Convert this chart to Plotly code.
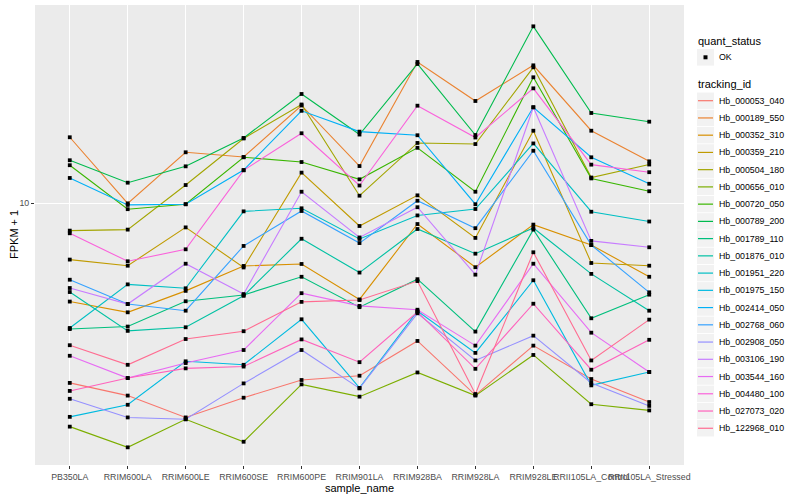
import plotly.graph_objects as go

samples = ["PB350LA", "RRIM600LA", "RRIM600LE", "RRIM600SE", "RRIM600PE", "RRIM901LA",
           "RRIM928BA", "RRIM928LA", "RRIM928LE", "RRII105LA_Control", "RRII105LA_Stressed"]

tracking_ids = ["Hb_000053_040", "Hb_000189_550", "Hb_000352_310", "Hb_000359_210",
                "Hb_000504_180", "Hb_000656_010", "Hb_000720_050", "Hb_000789_200",
                "Hb_001789_110", "Hb_001876_010", "Hb_001951_220", "Hb_001975_150",
                "Hb_002414_050", "Hb_002768_060", "Hb_002908_050", "Hb_003106_190",
                "Hb_003544_160", "Hb_004480_100", "Hb_027073_020", "Hb_122968_010"]

colors = ["#F8766D", "#EA8331", "#D89000", "#C09B00", "#A3A500", "#7CAE00", "#39B600",
          "#00BB4E", "#00BF7D", "#00C1A3", "#00BFC4", "#00BAE0", "#00B0F6", "#35A2FF",
          "#9590FF", "#C77CFF", "#E76BF3", "#FA62DB", "#FF62BC", "#FF6C91"]

# FPKM + 1 per sample (same order as samples)
hb_000053_040 = [3.55, 3.30, 2.91, 3.26, 3.61, 3.70, 4.52, 3.31, 4.40, 3.63, 3.18]
hb_000189_550 = [14.60, 9.98, 13.39, 13.03, 17.53, 12.37, 22.52, 17.99, 22.09, 15.16, 12.71]
hb_000352_310 = [5.67, 5.33, 6.03, 6.96, 7.04, 5.74, 8.86, 6.91, 8.83, 7.85, 6.54]
hb_000359_210 = [7.22, 6.97, 8.69, 6.90, 11.91, 8.76, 10.45, 8.18, 15.16, 7.08, 6.97]
hb_000504_180 = [8.53, 8.58, 11.09, 14.50, 17.63, 10.43, 14.13, 14.04, 21.84, 11.58, 12.48]
hb_000656_010 = [2.76, 2.45, 2.88, 2.53, 3.52, 3.28, 3.77, 3.30, 4.17, 3.14, 3.03]
hb_000720_050 = [12.43, 9.65, 9.93, 13.01, 12.66, 11.46, 13.74, 10.67, 20.62, 11.52, 10.70]
hb_000789_200 = [12.79, 11.24, 12.35, 14.54, 18.73, 14.83, 22.26, 14.79, 27.65, 16.79, 15.97]
hb_001789_110 = [4.84, 4.91, 5.68, 5.89, 6.54, 5.49, 6.45, 4.77, 8.58, 5.15, 5.90]
hb_001876_010 = [5.99, 4.79, 4.89, 5.86, 8.14, 6.70, 8.61, 7.47, 8.66, 6.65, 5.38]
hb_001951_220 = [4.87, 6.26, 6.12, 9.53, 9.70, 8.13, 9.31, 9.66, 14.09, 9.51, 8.99]
hb_001975_150 = [2.92, 3.13, 4.02, 3.94, 5.12, 3.45, 5.37, 4.22, 6.41, 3.50, 3.78]
hb_002414_050 = [11.55, 9.89, 9.93, 12.09, 17.00, 15.08, 14.77, 9.93, 17.35, 13.01, 11.17]
hb_002768_060 = [6.43, 5.59, 5.38, 7.81, 9.55, 7.94, 10.13, 8.65, 13.51, 7.85, 5.98]
hb_002908_050 = [3.24, 2.91, 2.88, 3.54, 4.29, 3.44, 5.30, 4.04, 4.66, 3.55, 3.11]
hb_003106_190 = [6.13, 5.59, 7.05, 5.92, 10.67, 8.20, 9.76, 6.62, 17.35, 8.04, 7.75]
hb_003544_160 = [4.15, 3.65, 3.98, 4.29, 5.95, 5.53, 5.41, 4.40, 7.05, 4.74, 3.78]
hb_004480_100 = [8.40, 7.15, 7.66, 12.07, 14.94, 11.06, 17.51, 14.58, 19.35, 12.47, 11.94]
hb_027073_020 = [3.39, 3.65, 3.86, 3.90, 4.56, 4.00, 5.34, 3.85, 5.60, 3.83, 4.55]
hb_122968_010 = [4.41, 3.94, 4.57, 4.78, 5.66, 5.72, 6.38, 3.33, 7.53, 4.04, 5.11]

series = [hb_000053_040, hb_000189_550, hb_000352_310, hb_000359_210, hb_000504_180,
          hb_000656_010, hb_000720_050, hb_000789_200, hb_001789_110, hb_001876_010,
          hb_001951_220, hb_001975_150, hb_002414_050, hb_002768_060, hb_002908_050,
          hb_003106_190, hb_003544_160, hb_004480_100, hb_027073_020, hb_122968_010]

quant_status = ["OK"]
y_ticks = [10]

FONT = "Liberation Sans"
W, H = 800, 500
PL, PR, PT, PB = 35, 684, 5, 465


def px(x):
    return (x - PL) / (PR - PL)


def py(y):
    return (PB - y) / (PB - PT)


fig = go.Figure()

for name, col, vals in zip(tracking_ids, colors, series):
    fig.add_trace(go.Scatter(x=samples, y=vals, mode="lines", name=name,
                             line=dict(color=col, width=1.1), showlegend=False,
                             hoverinfo="skip"))

all_x = [s for _ in series for s in samples]
all_y = [v for vals in series for v in vals]
fig.add_trace(go.Scatter(x=all_x, y=all_y, mode="markers", name="OK",
                         marker=dict(color="black", size=3.8, symbol="square"),
                         showlegend=False))

shapes = []
annotations = []

# manual ggplot-style legends
annotations.append(dict(x=px(696), y=py(40.5), xref="paper", yref="paper",
                        text="quant_status", showarrow=False, xanchor="left",
                        yanchor="middle", font=dict(family=FONT, size=11, color="black")))
cy = 57.3
shapes.append(dict(type="rect", xref="paper", yref="paper", x0=px(697), x1=px(714),
                   y0=py(cy - 8.3), y1=py(cy + 8.3), fillcolor="#F2F2F2",
                   line=dict(width=0), layer="above"))
shapes.append(dict(type="rect", xref="paper", yref="paper", x0=px(703.5), x1=px(707.5),
                   y0=py(cy - 2), y1=py(cy + 2), fillcolor="black",
                   line=dict(width=0), layer="above"))
annotations.append(dict(x=px(717), y=py(cy), xref="paper", yref="paper",
                        text=quant_status[0], showarrow=False, xanchor="left",
                        yanchor="middle", font=dict(family=FONT, size=8.8, color="black")))

annotations.append(dict(x=px(696), y=py(84), xref="paper", yref="paper",
                        text="tracking_id", showarrow=False, xanchor="left",
                        yanchor="middle", font=dict(family=FONT, size=11, color="black")))
for i, (name, col) in enumerate(zip(tracking_ids, colors)):
    cy = 100.7 + i * 17.24
    shapes.append(dict(type="rect", xref="paper", yref="paper", x0=px(697), x1=px(714),
                       y0=py(cy - 8.2), y1=py(cy + 8.2), fillcolor="#F2F2F2",
                       line=dict(width=0), layer="above"))
    shapes.append(dict(type="line", xref="paper", yref="paper", x0=px(698), x1=px(713),
                       y0=py(cy), y1=py(cy), line=dict(color=col, width=1.2), layer="above"))
    annotations.append(dict(x=px(717), y=py(cy), xref="paper", yref="paper",
                            text=name, showarrow=False, xanchor="left", yanchor="middle",
                            font=dict(family=FONT, size=8.8, color="black")))

# y axis title (rotated), placed like ggplot's
annotations.append(dict(x=px(14), y=0.5, xref="paper", yref="paper", text="FPKM + 1",
                        textangle=-90, showarrow=False, xanchor="center", yanchor="middle",
                        font=dict(family=FONT, size=11, color="black")))

fig.update_layout(
    width=W, height=H, autosize=False,
    margin=dict(l=PL, r=W - PR, t=PT, b=H - PB),
    paper_bgcolor="white", plot_bgcolor="#EBEBEB",
    font=dict(family=FONT, size=11, color="black"),
    showlegend=False,
    shapes=shapes, annotations=annotations,
    xaxis=dict(type="category", categoryorder="array", categoryarray=samples,
               range=[-0.6, len(samples) - 0.4], showgrid=True, gridcolor="white",
               gridwidth=1.1, zeroline=False, showline=False, ticks="outside",
               ticklen=3, tickcolor="#333333", tickwidth=1, tickangle=0,
               tickfont=dict(family=FONT, size=8.8, color="#4D4D4D"),
               title=dict(text="sample_name", font=dict(family=FONT, size=11),
                          standoff=3),
               automargin=False, fixedrange=True),
    yaxis=dict(type="log", range=[0.345, 1.495], tickvals=y_ticks,
               ticktext=[str(t) for t in y_ticks], showgrid=True, gridcolor="white",
               gridwidth=1.1, zeroline=False, showline=False, ticks="outside",
               ticklen=3, tickcolor="#333333", tickwidth=1,
               tickfont=dict(family=FONT, size=8.8, color="#4D4D4D"),
               automargin=False, fixedrange=True),
)

fig.write_html("out.html", config={"displayModeBar": False},
               post_script="document.body.style.margin='0px';")
